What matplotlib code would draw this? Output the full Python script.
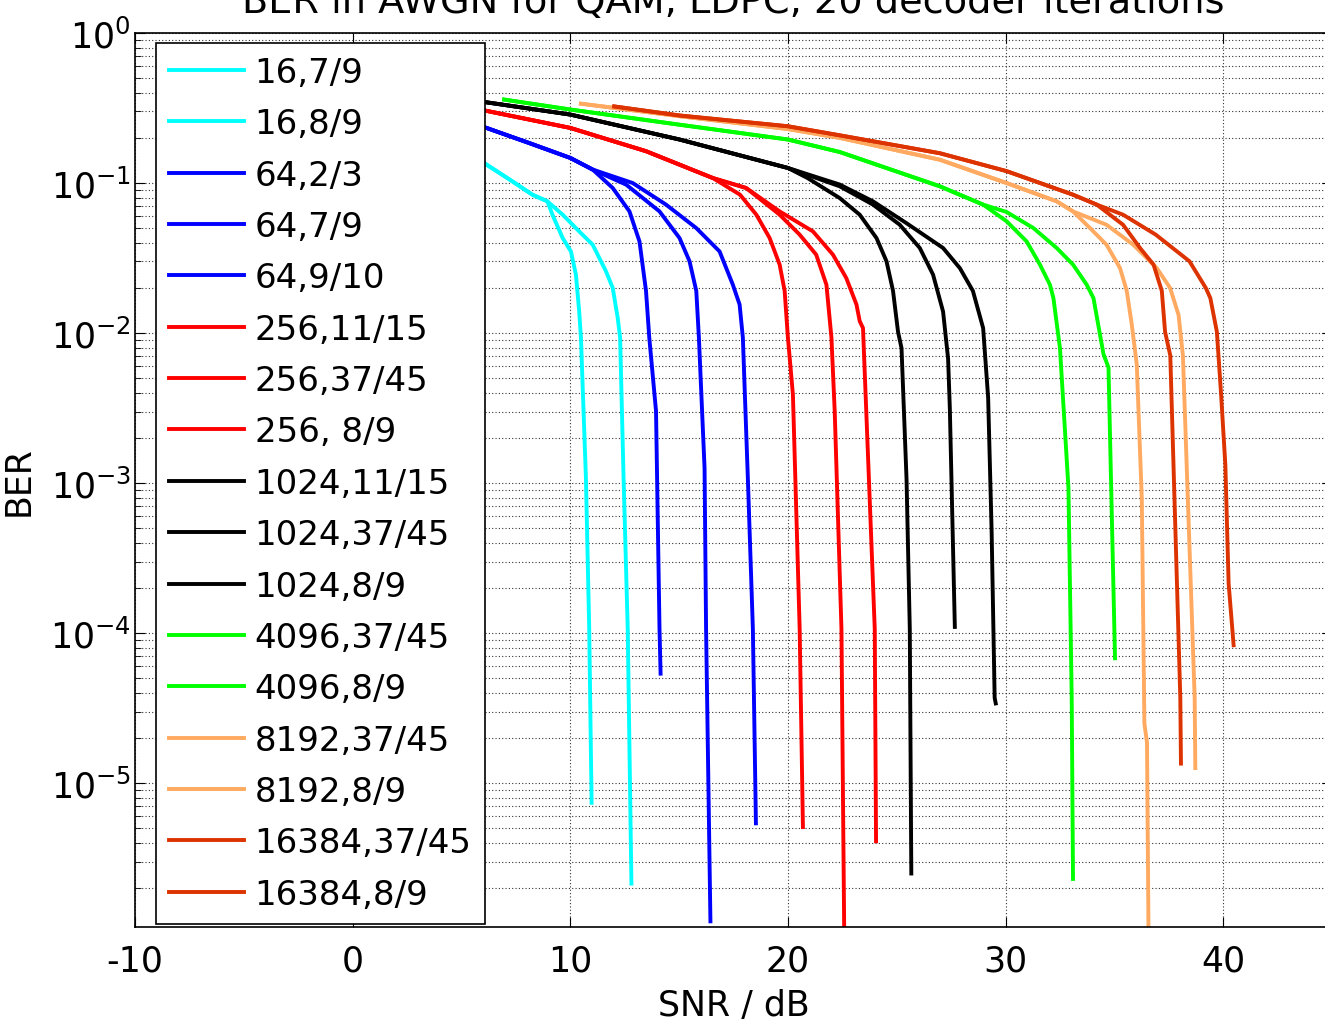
import numpy as np
import matplotlib
matplotlib.use("Agg")
import matplotlib.pyplot as plt

plt.rcParams['font.family'] = ['DejaVu Sans']
plt.rcParams['font.size'] = 25
plt.rcParams['axes.unicode_minus'] = False

# ---- data (SNR in dB, BER) -------------------------------------------------
labels = ['16,7/9', '16,8/9', '64,2/3', '64,7/9', '64,9/10',
          '256,11/15', '256,37/45', '256, 8/9',
          '1024,11/15', '1024,37/45', '1024,8/9',
          '4096,37/45', '4096,8/9', '8192,37/45', '8192,8/9',
          '16384,37/45', '16384,8/9']

colors = ['#00FFFF', '#00FFFF', '#0000FF', '#0000FF', '#0000FF',
          '#FF0000', '#FF0000', '#FF0000', '#000000', '#000000', '#000000',
          '#00FF00', '#00FF00', '#FFAA60', '#FFAA60', '#DD3300', '#DD3300']

snr_16_79 = [5, 6.04, 7.34, 8.26, 8.95, 9.18, 9.65, 10.03, 10.26, 10.41, 10.49, 10.72, 10.87, 10.98]
ber_16_79 = [0.170, 0.136, 0.1026, 0.0836, 0.0755, 0.0615, 0.0430, 0.0350, 0.0245, 0.0139,
             0.00933, 0.00107, 1.07e-4, 7.4e-6]
snr_16_89 = [5, 6.04, 7.34, 8.26, 8.95, 9.65, 10.41, 11.03, 11.64, 11.95, 12.18, 12.29, 12.45, 12.64, 12.81]
ber_16_89 = [0.170, 0.136, 0.1026, 0.0836, 0.0755, 0.0615, 0.0476, 0.0388, 0.0258, 0.0200,
             0.0126, 0.00933, 0.00107, 1.07e-4, 2.14e-6]

snr_64_23 = [5, 6.04, 8.1, 10, 11.03, 11.95, 12.72, 13.18, 13.48, 13.63, 13.94, 14.1, 14.15]
ber_64_23 = [0.263, 0.236, 0.185, 0.147, 0.123, 0.0927, 0.0647, 0.0408, 0.0191, 0.00933,
             0.00302, 1.07e-4, 5.37e-5]
snr_64_79 = [5, 6.04, 8.1, 10, 11.03, 12.57, 14.1, 15.02, 15.48, 15.79, 15.91, 16.17, 16.24, 16.44]
ber_64_79 = [0.263, 0.236, 0.185, 0.147, 0.123, 0.0975, 0.0647, 0.0430, 0.0301, 0.0191,
             0.00933, 0.00126, 1.07e-4, 1.2e-6]
snr_64_910 = [5, 6.04, 8.1, 10, 11.03, 12.87, 14.4, 15.79, 16.86, 17.47, 17.78, 17.93, 18.16, 18.39, 18.53]
ber_64_910 = [0.263, 0.236, 0.185, 0.147, 0.123, 0.100, 0.0718, 0.0501, 0.0350, 0.0210,
              0.0155, 0.00933, 0.00107, 1.07e-4, 5.4e-6]

snr_256_1115 = [5, 6.04, 10, 13.48, 16.55, 17.8, 18.55, 19.16, 19.62, 19.85, 20.0, 20.23, 20.54, 20.69]
ber_256_1115 = [0.324, 0.305, 0.233, 0.163, 0.108, 0.0836, 0.0615, 0.0430, 0.0286, 0.0191,
                0.00933, 0.00389, 1.07e-4, 5.1e-6]
snr_256_3745 = [5, 6.04, 10, 13.48, 16.55, 18.08, 19.62, 20.54, 21.3, 21.77, 22.0, 22.15, 22.46, 22.6]
ber_256_3745 = [0.324, 0.305, 0.233, 0.163, 0.108, 0.0927, 0.0615, 0.0453, 0.0333, 0.0210,
                0.00933, 0.00302, 1.07e-4, 6.3e-7]
snr_256_89 = [5, 6.04, 10, 13.48, 16.55, 18.08, 19.62, 21.15, 22.07, 22.68, 23.15, 23.3, 23.45, 23.6, 23.99, 24.05]
ber_256_89 = [0.324, 0.305, 0.233, 0.163, 0.108, 0.0927, 0.0647, 0.0476, 0.0333, 0.0233,
              0.0155, 0.0120, 0.0108, 0.00302, 1.07e-4, 4.1e-6]

snr_1024_1115 = [5, 6.04, 10, 15.02, 20, 20.9, 22.38, 23.3, 24.07, 24.53, 24.83, 25.06, 25.22, 25.45, 25.6, 25.67]
ber_1024_1115 = [0.363, 0.347, 0.286, 0.195, 0.126, 0.108, 0.0794, 0.0615, 0.0430, 0.0301,
                 0.0191, 0.0102, 0.00794, 0.00107, 1.07e-4, 2.5e-6]
snr_1024_3745 = [5, 6.04, 10, 15.02, 20, 22.38, 23.91, 25.14, 26.06, 26.67, 27.13, 27.36, 27.44, 27.67]
ber_1024_3745 = [0.363, 0.347, 0.286, 0.195, 0.126, 0.0951, 0.0718, 0.0527, 0.0369, 0.0245,
                 0.0139, 0.00676, 0.00316, 1.1e-4]
snr_1024_89 = [5, 6.04, 10, 15.02, 20, 22.38, 23.91, 25.44, 27.13, 27.9, 28.5, 28.97, 29.2, 29.36, 29.5, 29.55]
ber_1024_89 = [0.363, 0.347, 0.286, 0.195, 0.126, 0.0977, 0.0755, 0.0541, 0.0369, 0.0271,
               0.0191, 0.0108, 0.00372, 4.8e-4, 3.7e-5, 3.4e-5]

snr_4096_3745 = [6.96, 10, 15, 20, 22.38, 26.98, 28.97, 30.05, 30.97, 31.58, 32.04, 32.2, 32.5, 32.89, 33.04, 33.1]
ber_4096_3745 = [0.360, 0.309, 0.245, 0.195, 0.161, 0.0951, 0.0718, 0.0556, 0.0408, 0.0286,
                 0.0210, 0.0171, 0.00794, 9.3e-4, 3.7e-5, 2.3e-6]
snr_4096_89 = [6.96, 10, 15, 20, 22.38, 26.98, 28.97, 30.05, 31.28, 32.35, 33.1, 33.73, 34.04, 34.5, 34.73, 35.03]
ber_4096_89 = [0.360, 0.309, 0.245, 0.195, 0.161, 0.0951, 0.0718, 0.0641, 0.0501, 0.0369,
               0.0286, 0.0210, 0.0171, 0.00724, 0.00589, 6.8e-5]

snr_8192_3745 = [10.49, 15.02, 20, 22.38, 26.98, 30.05, 32.35, 33.1, 33.88, 34.64, 35.26, 35.57,
                 35.8, 36.03, 36.26, 36.38, 36.5, 36.58]
ber_8192_3745 = [0.338, 0.279, 0.229, 0.200, 0.143, 0.100, 0.0755, 0.0647, 0.0501, 0.0388,
                 0.0271, 0.0191, 0.0114, 0.00617, 7.9e-4, 2.5e-5, 1.86e-5, 6.3e-7]
snr_8192_89 = [10.49, 15.02, 20, 22.38, 26.98, 30.05, 32.35, 33.1, 34.64, 35.87, 36.95, 37.56,
               37.95, 38.15, 38.69, 38.72]
ber_8192_89 = [0.338, 0.279, 0.229, 0.200, 0.143, 0.100, 0.0755, 0.0647, 0.0527, 0.0388,
               0.0271, 0.0200, 0.0132, 0.00708, 3.7e-5, 1.26e-5]

snr_16384_3745 = [12.02, 15.02, 20, 22.38, 26.98, 30.05, 33.1, 34.19, 35.4, 36.18, 36.8, 37.18,
                  37.33, 37.57, 38.03, 38.06]
ber_16384_3745 = [0.324, 0.282, 0.239, 0.208, 0.158, 0.120, 0.0836, 0.0718, 0.0527, 0.0369,
                  0.0286, 0.0191, 0.0102, 0.00708, 3.7e-5, 1.35e-5]
snr_16384_89 = [12.02, 15.02, 20, 22.38, 26.98, 30.05, 33.1, 34.19, 35.4, 36.9, 38.45, 39.2,
                39.41, 39.71, 39.9, 40.1, 40.25, 40.48]
ber_16384_89 = [0.324, 0.282, 0.239, 0.208, 0.158, 0.120, 0.0836, 0.0718, 0.0615, 0.0453,
                0.0301, 0.0200, 0.0171, 0.0102, 0.00398, 0.00132, 2.14e-4, 8.3e-5]

snr = [snr_16_79, snr_16_89, snr_64_23, snr_64_79, snr_64_910,
       snr_256_1115, snr_256_3745, snr_256_89, snr_1024_1115, snr_1024_3745, snr_1024_89,
       snr_4096_3745, snr_4096_89, snr_8192_3745, snr_8192_89, snr_16384_3745, snr_16384_89]
ber = [ber_16_79, ber_16_89, ber_64_23, ber_64_79, ber_64_910,
       ber_256_1115, ber_256_3745, ber_256_89, ber_1024_1115, ber_1024_3745, ber_1024_89,
       ber_4096_3745, ber_4096_89, ber_8192_3745, ber_8192_89, ber_16384_3745, ber_16384_89]

# ---- figure ---------------------------------------------------------------
fig = plt.figure(figsize=(13.25, 10.2), dpi=100)
ax = fig.add_axes([135/1325, 92/1020, 1197/1325, 894/1020])

for x, y, c, lab in zip(snr, ber, colors, labels):
    ax.semilogy(x, y, color=c, lw=2.8, label=lab)

ax.set_xlim(-10, 45)
ax.set_ylim(1.1e-6, 1)
ax.set_xticks(np.arange(-10, 50, 10))
ax.grid(True, which='major', ls=(0, (1, 2)), color='0.2', lw=0.8)
ax.grid(True, which='minor', axis='y', ls=(0, (1, 2)), color='0.2', lw=0.8)
ax.tick_params(which='both', direction='in', top=True, right=True)
ax.tick_params(which='major', length=7, labelsize=25)
ax.tick_params(axis='x', which='major', pad=12)
ax.tick_params(axis='y', which='major', pad=3)
ax.tick_params(which='minor', length=4)
for s in ax.spines.values():
    s.set_linewidth(1.2)

ax.set_xlabel('SNR / dB', fontsize=25, labelpad=7)
ax.set_ylabel('BER', fontsize=25, labelpad=10)
ax.set_title('BER in AWGN for QAM, LDPC, 20 decoder iterations', fontsize=27.5, pad=15)

leg = ax.legend(loc='upper left', bbox_to_anchor=(0.0175, 0.989), borderaxespad=0,
                fontsize=24.5, handlelength=2.2, handletextpad=0.32, labelspacing=0.54,
                borderpad=0.38, fancybox=False, edgecolor='k', framealpha=1)
leg.get_frame().set_linewidth(1.2)

fig.savefig('out.png', dpi=100)
